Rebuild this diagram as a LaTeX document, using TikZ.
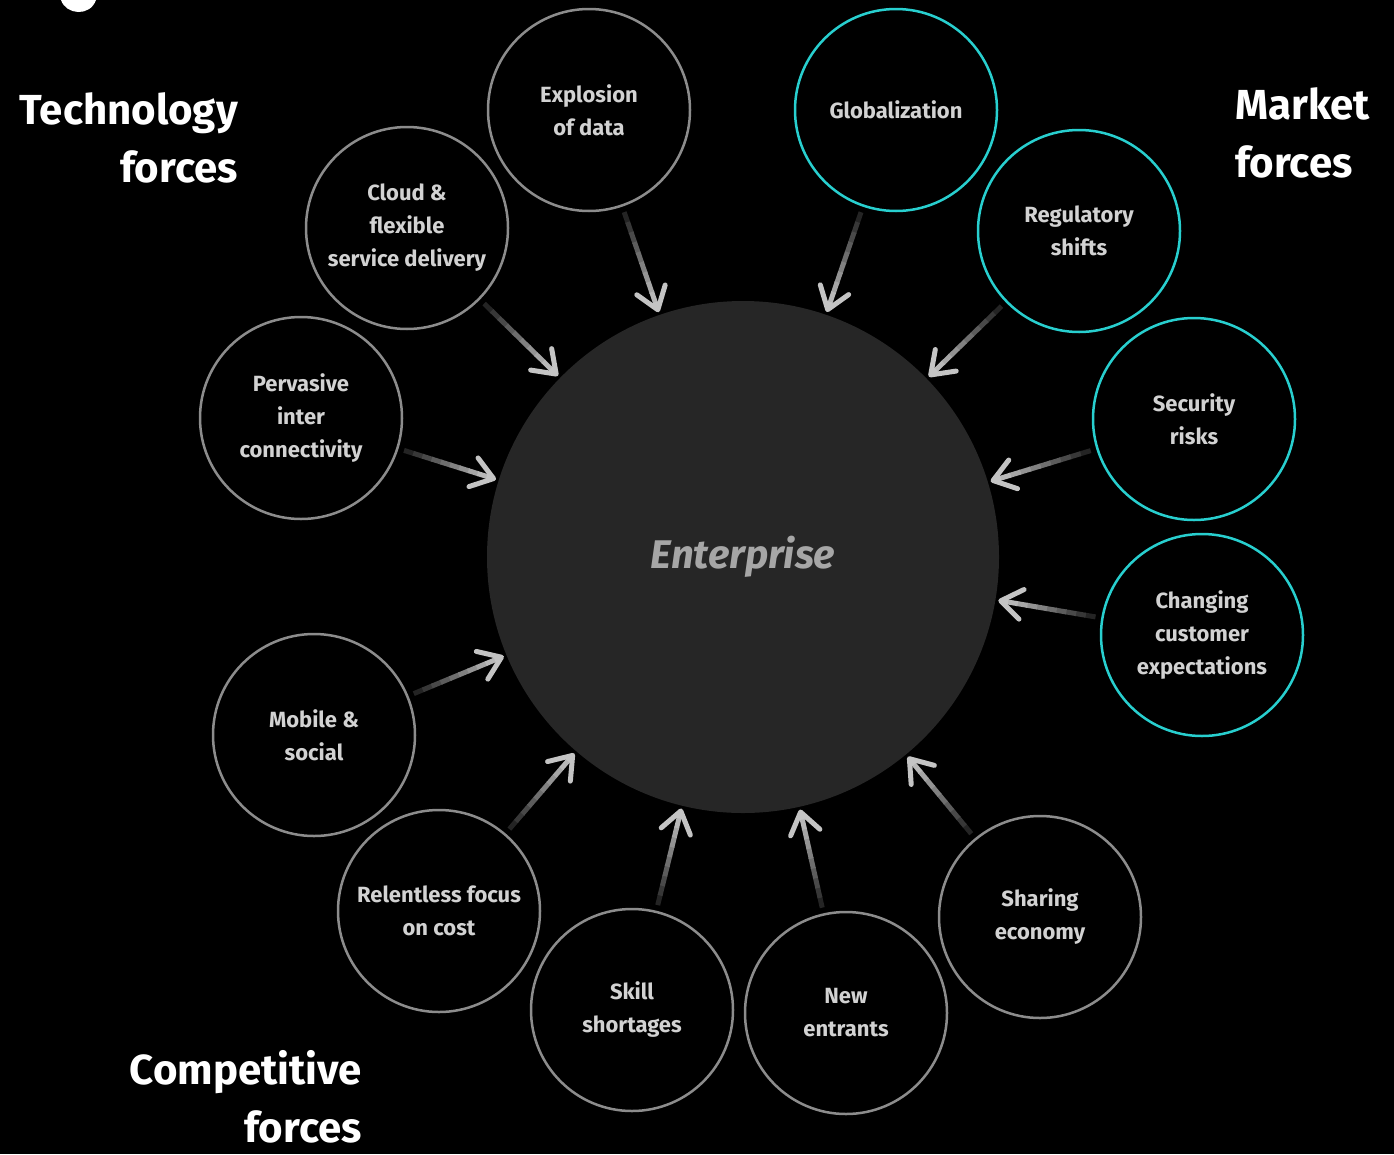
\documentclass[tikz,border=0pt]{standalone}
\usepackage{fontspec}
\setmainfont{Fira Sans}
\usetikzlibrary{arrows.meta,calc}
\definecolor{ringgray}{HTML}{8C8C8C}
\definecolor{ringcyan}{HTML}{28CFCF}
\definecolor{corefill}{HTML}{262626}
\definecolor{labelgray}{HTML}{D2D2D2}
\definecolor{coretext}{HTML}{A6A6A6}
\definecolor{pulllo}{HTML}{1C1C1C}
\definecolor{pullhi}{HTML}{C4C4C4}
\tikzset{
  caption/.style={inner sep=0pt,align=center,text=labelgray,font={\fontsize{22pt}{33pt}\selectfont\bfseries}},
  force/.style={circle,draw=ringgray,line width=2.5pt,minimum size=202pt,inner sep=0pt},
  market/.style={force,draw=ringcyan},
  heading/.style={text=white,inner sep=0pt,font={\fontsize{42pt}{58pt}\selectfont\bfseries}}
}
\newcommand{\pull}[1]{%
  \coordinate (p) at ($(#1)!108pt!(ent)$);
  \coordinate (q) at ($(ent)!259pt!(#1)$);
  \foreach \i in {0,...,8}{
    \pgfmathtruncatemacro{\mix}{5+\i*11}
    \draw[pullhi!\mix!pulllo,line width=5pt] ($(p)!\i/10!(q)$) -- ($(p)!\i/10+0.11!(q)$);
  }
  \draw[pullhi,line width=5pt,-{Straight Barb[length=21pt,width=30pt,line cap=round,line join=round]}] ($(p)!0.9!(q)$) -- (q);
}

\begin{document}
\begin{tikzpicture}[x=1pt,y=-1pt]
\useasboundingbox (0,0) rectangle (1394,1154);
\fill[black] (0,0) rectangle (1394,1154);
\fill[white] (61,0) .. controls (66,15) and (90,17) .. (96,0) -- cycle;

\node[circle,fill=corefill,minimum size=512pt,inner sep=0pt,text=coretext,font={\fontsize{40pt}{48pt}\selectfont\bfseries\itshape}] (ent) at (743,557) {Enterprise};

\node[force,label={[caption]center:Explosion\\of data}] (data) at (589,110) {};
\node[force,label={[caption]center:Cloud \&\\flexible\\service delivery}] (cloud) at (407,228) {};
\node[force,label={[caption]center:Pervasive\\inter\\connectivity}] (pervasive) at (301,418) {};
\node[force,label={[caption]center:Mobile \&\\social}] (mobile) at (314,735) {};
\node[force,label={[caption]center:Relentless focus\\on cost}] (cost) at (439,911) {};
\node[force,label={[caption]center:Skill\\shortages}] (skill) at (632,1010) {};
\node[force,label={[caption]center:New\\entrants}] (entrants) at (846,1013) {};
\node[force,label={[caption]center:Sharing\\economy}] (sharing) at (1040,917) {};
\node[market,label={[caption]center:Globalization}] (global) at (896,110) {};
\node[market,label={[caption]center:Regulatory\\shifts}] (regulatory) at (1079,231) {};
\node[market,label={[caption]center:Security\\risks}] (security) at (1194,419) {};
\node[market,label={[caption]center:Changing\\customer\\expectations}] (customer) at (1202,635) {};

\pull{data}
\pull{cloud}
\pull{pervasive}
\pull{mobile}
\pull{cost}
\pull{skill}
\pull{entrants}
\pull{sharing}
\pull{global}
\pull{regulatory}
\pull{security}
\pull{customer}

\node[heading,align=right,anchor=east] (tech) at (238,138) {Technology\\forces};
\node[heading,align=left,anchor=west] (mkt) at (1235,133) {Market\\forces};
\node[heading,align=right,anchor=east] (comp) at (362,1097) {Competitive\\forces};
\end{tikzpicture}
\end{document}
